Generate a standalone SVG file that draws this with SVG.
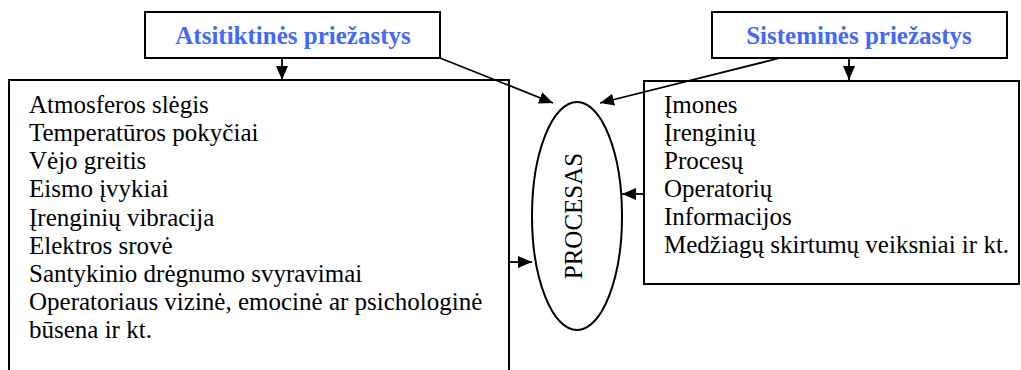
<svg xmlns="http://www.w3.org/2000/svg" width="1021" height="370" viewBox="0 0 1021 370">
  <style>
    .box { fill: #ffffff; stroke: #000000; stroke-width: 2; }
    .conn { stroke: #000000; stroke-width: 1.8; fill: none; marker-end: url(#arrow); }
  </style>
  <defs>
    <marker id="arrow" viewBox="0 0 14 12" refX="14" refY="6" markerWidth="14" markerHeight="12" markerUnits="userSpaceOnUse" orient="auto">
      <path d="M0,0 L14,6 L0,12 Z" fill="#000000"/>
    </marker>
  </defs>

  <rect width="1021" height="370" fill="#ffffff"/>

  <!-- random causes header -->
  <g id="random-causes">
    <rect class="box" x="145" y="12" width="295" height="46"/>
    <text x="293" y="44" font-family="Liberation Serif" font-size="25" font-weight="bold" fill="#4169ff" text-anchor="middle">Atsitiktinės priežastys</text>
  </g>

  <!-- systemic causes header -->
  <g id="systemic-causes">
    <rect class="box" x="712" y="12" width="295" height="46"/>
    <text x="859" y="44" font-family="Liberation Serif" font-size="25" font-weight="bold" fill="#4169ff" text-anchor="middle">Sisteminės priežastys</text>
  </g>

  <!-- list of random factors -->
  <g id="random-list" font-family="Liberation Serif" font-size="25" fill="#000000">
    <rect class="box" x="9" y="80" width="500" height="300"/>
    <text x="29" y="113">Atmosferos slėgis</text>
    <text x="29" y="141">Temperatūros pokyčiai</text>
    <text x="29" y="169">Vėjo greitis</text>
    <text x="29" y="197">Eismo įvykiai</text>
    <text x="29" y="226">Įrenginių vibracija</text>
    <text x="29" y="254">Elektros srovė</text>
    <text x="29" y="282">Santykinio drėgnumo svyravimai</text>
    <text x="29" y="310">Operatoriaus vizinė, emocinė ar psichologinė</text>
    <text x="29" y="338">būsena ir kt.</text>
  </g>

  <!-- list of systemic factors -->
  <g id="systemic-list" font-family="Liberation Serif" font-size="25" fill="#000000">
    <rect class="box" x="644" y="81" width="375" height="203"/>
    <text x="664" y="113">Įmones</text>
    <text x="664" y="141">Įrenginių</text>
    <text x="664" y="169">Procesų</text>
    <text x="664" y="197">Operatorių</text>
    <text x="664" y="225">Informacijos</text>
    <text x="664" y="253">Medžiagų skirtumų veiksniai ir kt.</text>
  </g>

  <!-- central process -->
  <g id="process">
    <ellipse cx="577" cy="216" rx="45" ry="114" fill="#ffffff" stroke="#000000" stroke-width="2"/>
    <text x="0" y="0" font-family="Liberation Serif" font-size="25" text-anchor="middle" transform="translate(582,216) rotate(-90)">PROCESAS</text>
  </g>

  <!-- connectors -->
  <g id="connectors">
    <line class="conn" x1="282" y1="58" x2="282" y2="80"/>
    <line class="conn" x1="849" y1="58" x2="849" y2="80"/>
    <line class="conn" x1="440" y1="58" x2="553" y2="103"/>
    <line class="conn" x1="780" y1="58" x2="600" y2="103"/>
    <line class="conn" x1="509" y1="262" x2="532" y2="262"/>
    <line class="conn" x1="644" y1="194" x2="622" y2="194"/>
  </g>
</svg>
